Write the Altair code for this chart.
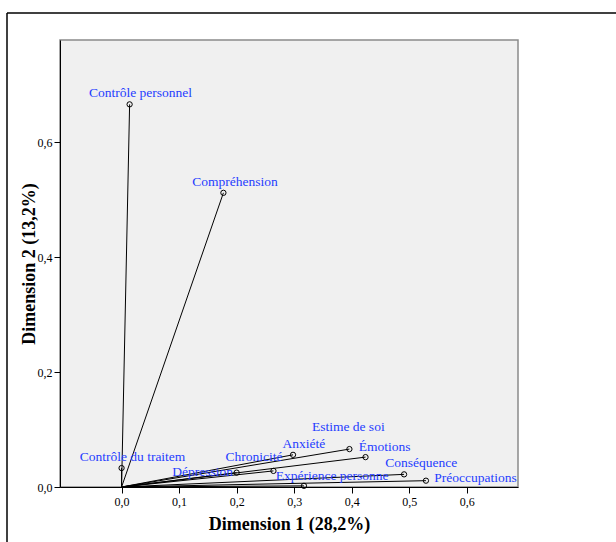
import altair as alt
import pandas as pd

names = ["Contrôle personnel", "Compréhension", "Contrôle du traitem", "Dépression",
         "Chronicité", "Anxiété", "Estime de soi", "Émotions", "Conséquence",
         "Préoccupations", "Expérience personne"]
dim1 = [0.014, 0.177, 0.000, 0.200, 0.264, 0.298, 0.396, 0.424, 0.491, 0.529, 0.317]
dim2 = [0.666, 0.512, 0.033, 0.025, 0.028, 0.056, 0.066, 0.052, 0.022, 0.011, 0.002]
# label anchor positions (data units)
lab_x = [0.033, 0.197, 0.019, 0.141, 0.230, 0.317, 0.394, 0.457, 0.521, 0.615, 0.366]
lab_y = [0.685, 0.531, 0.053, 0.026, 0.053, 0.075, 0.105, 0.069, 0.042, 0.016, 0.020]

x_ticks = [0.0, 0.1, 0.2, 0.3, 0.4, 0.5, 0.6]
y_ticks = [0.0, 0.2, 0.4, 0.6]

df = pd.DataFrame({"name": names, "d1": dim1, "d2": dim2, "lx": lab_x, "ly": lab_y})
df["ox"] = 0.0
df["oy"] = 0.0

FONT = "Liberation Serif"

xscale = alt.Scale(domain=[-0.107, 0.689], nice=False, zero=False)
yscale = alt.Scale(domain=[0.0, 0.778], nice=False, zero=False)

xaxis = alt.Axis(title="Dimension 1 (28,2%)", values=x_ticks, format=".1f",
                 labelExpr="replace(datum.label, '.', ',')", grid=False,
                 tickSize=6, tickColor="black", domainColor="black",
                 labelFont=FONT, labelFontSize=12, labelColor="black", labelPadding=3,
                 titleFont=FONT, titleFontSize=18, titleFontWeight="bold",
                 titleColor="black", titlePadding=8)
yaxis = alt.Axis(title="Dimension 2 (13,2%)", values=y_ticks, format=".1f",
                 labelExpr="replace(datum.label, '.', ',')", grid=False,
                 tickSize=6, tickColor="black", domainColor="black",
                 labelFont=FONT, labelFontSize=12, labelColor="black", labelPadding=2,
                 titleFont=FONT, titleFontSize=18, titleFontWeight="bold",
                 titleColor="black", titlePadding=-1)

base = alt.Chart(df)

rules = base.mark_rule(color="black", strokeWidth=1).encode(
    x=alt.X("ox:Q", scale=xscale, axis=xaxis),
    y=alt.Y("oy:Q", scale=yscale, axis=yaxis),
    x2="d1:Q",
    y2="d2:Q",
)

points = base.mark_point(shape="circle", filled=False, size=28, color="black",
                         strokeWidth=1, opacity=1).encode(
    x=alt.X("d1:Q", scale=xscale),
    y=alt.Y("d2:Q", scale=yscale),
)

labels = base.mark_text(font=FONT, fontSize=13.5, color="#1f3dff",
                        align="center", baseline="middle").encode(
    x=alt.X("lx:Q", scale=xscale),
    y=alt.Y("ly:Q", scale=yscale),
    text="name:N",
)

frame_v = alt.Chart(pd.DataFrame({"a": [0]})).mark_rule(color="black", strokeWidth=1.5).encode(
    x=alt.value(-53), y=alt.value(-27), y2=alt.value(520))
frame_h = alt.Chart(pd.DataFrame({"a": [0]})).mark_rule(color="black", strokeWidth=1.5).encode(
    x=alt.value(-53), x2=alt.value(560), y=alt.value(-27))

chart = alt.layer(rules, points, labels, frame_v, frame_h).properties(
    width=458, height=447,
    autosize=alt.AutoSizeParams(type="none"),
    padding={"left": 60, "top": 40, "right": 98, "bottom": 55},
    background="white",
).configure_view(
    fill="#f0f0f0", stroke="#8a8a8a", strokeWidth=1.5
)

chart.save("out.html", embed_options={"renderer": "svg", "actions": False})
